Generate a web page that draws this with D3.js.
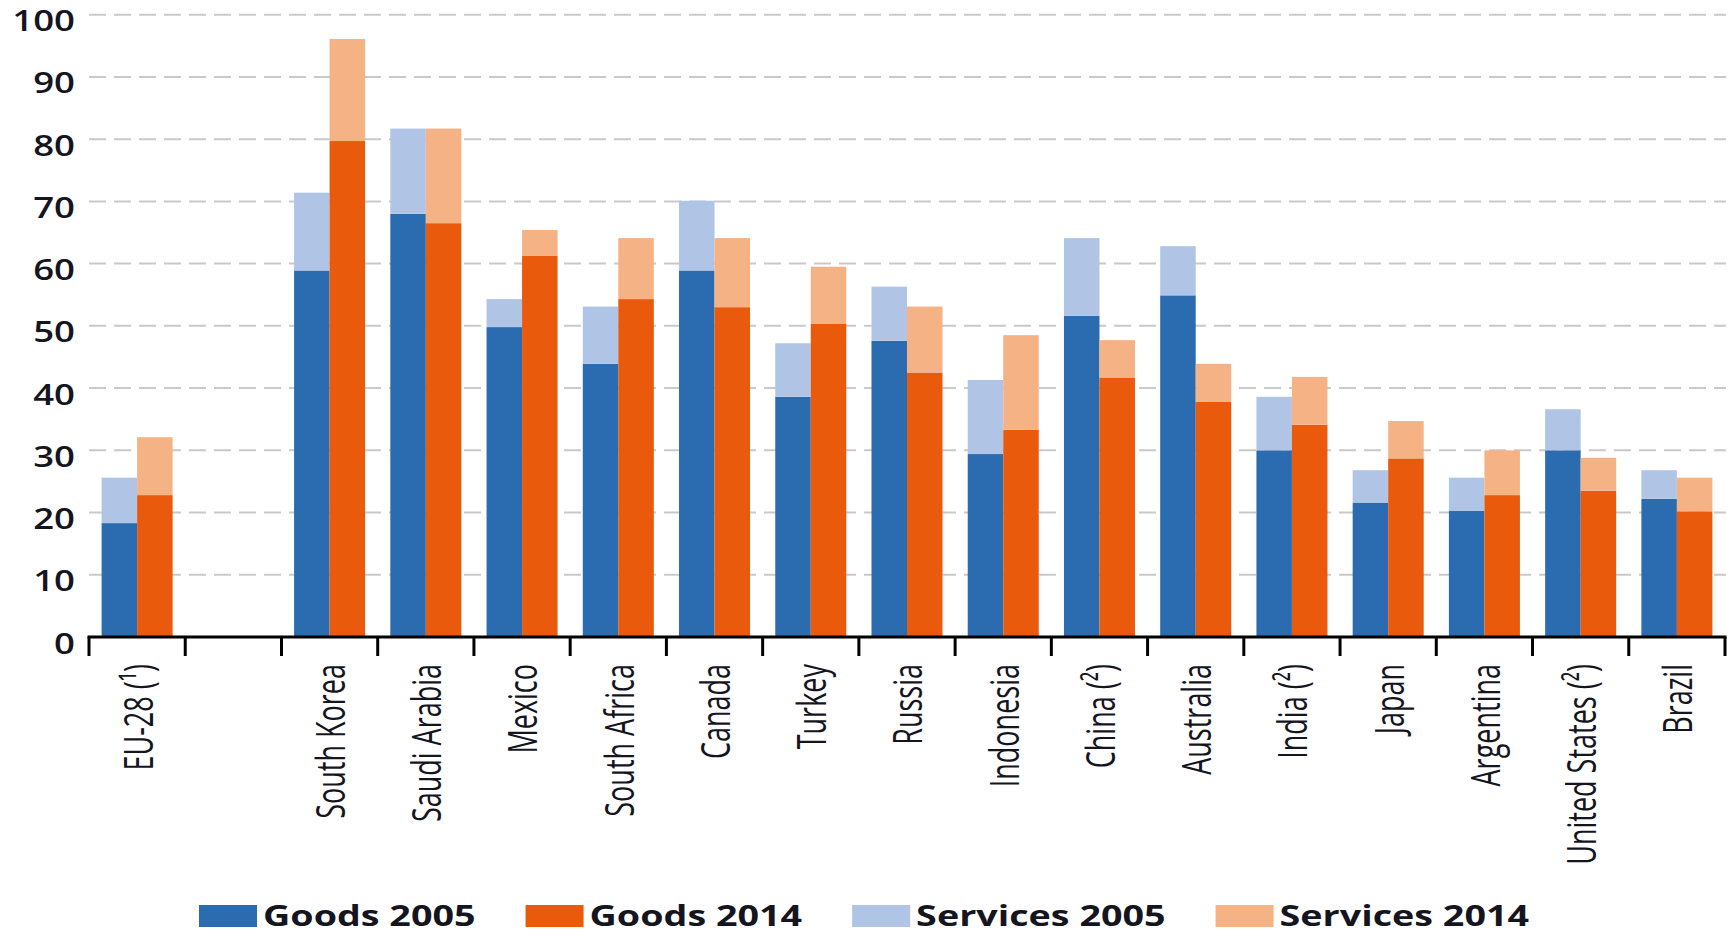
<!DOCTYPE html>
<html>
<head>
<meta charset="utf-8">
<script src="https://cdn.jsdelivr.net/npm/d3@7"></script>
<style>
  body { margin: 0; background: #fff; }
  svg { display: block; font-family: "Open Sans", "Noto Sans", sans-serif; }
</style>
</head>
<body>
<div id="chart"></div>
<script>
// Categories along the x axis. The empty one is the gap after EU-28.
var categories = ["EU-28 (¹)", "", "South Korea", "Saudi Arabia", "Mexico", "South Africa",
    "Canada", "Turkey", "Russia", "Indonesia", "China (²)", "Australia", "India (²)",
    "Japan", "Argentina", "United States (²)", "Brazil"];

// Goods share, bottom segment of each bar.
var goods2005 = [18.3, null, 58.9, 68.0, 49.8, 43.9, 58.9, 38.6, 47.6, 29.4, 51.6, 54.9, 30.0, 21.6, 20.3, 30.0, 22.2];
var goods2014 = [22.8, null, 79.7, 66.5, 61.3, 54.3, 53.0, 50.3, 42.5, 33.3, 41.7, 37.8, 34.1, 28.7, 22.8, 23.5, 20.2];

// Services share, stacked on top of goods.
var services2005 = [7.3, null, 12.5, 13.7, 4.5, 9.2, 11.2, 8.6, 8.7, 11.9, 12.5, 7.9, 8.6, 5.2, 5.3, 6.6, 4.6];
var services2014 = [9.3, null, 16.4, 15.2, 4.1, 9.8, 11.1, 9.2, 10.6, 15.2, 6.0, 6.1, 7.7, 6.0, 7.2, 5.3, 5.4];

var yTicks = [0, 10, 20, 30, 40, 50, 60, 70, 80, 90, 100];
var legendLabels = ["Goods 2005", "Goods 2014", "Services 2005", "Services 2014"];

var colors = {
    goods2005: "#2b6bb0",
    goods2014: "#e95a0c",
    services2005: "#b0c4e6",
    services2014: "#f5b284"
};
var textColor = "#15151f";

var W = 1731, H = 935;
var plot = {left: 89, right: 1725, top: 14.7, bottom: 637};

var svg = d3.select("#chart").append("svg")
    .attr("width", W)
    .attr("height", H);

var x0 = d3.scaleBand()
    .domain(d3.range(categories.length))
    .range([plot.left, plot.right])
    .paddingInner(0)
    .paddingOuter(0);

var x1 = d3.scaleBand()
    .domain(["2005", "2014"])
    .range([0, x0.bandwidth()])
    .paddingInner(0)
    .paddingOuter(0.355);

var y = d3.scaleLinear()
    .domain([0, 100])
    .range([plot.bottom, plot.top]);

// Dashed gridlines behind the bars.
svg.append("g").attr("class", "grid")
  .selectAll("line").data(yTicks.filter(function(d) { return d > 0; }))
  .enter().append("line")
    .attr("x1", plot.left)
    .attr("x2", 1726)
    .attr("y1", function(d) { return y(d); })
    .attr("y2", function(d) { return y(d); })
    .attr("stroke", "#c9c9c9")
    .attr("stroke-width", 2)
    .attr("stroke-dasharray", "17,8");

// One row per category with both years stacked.
var rows = categories.map(function(c, i) {
    return {
        i: i,
        bars: [
            {year: "2005", goods: goods2005[i], services: services2005[i], gc: colors.goods2005, sc: colors.services2005},
            {year: "2014", goods: goods2014[i], services: services2014[i], gc: colors.goods2014, sc: colors.services2014}
        ]
    };
}).filter(function(r) { return r.bars[0].goods !== null; });

var groups = svg.append("g").attr("class", "bars")
  .selectAll("g").data(rows)
  .enter().append("g")
    .attr("transform", function(d) { return "translate(" + x0(d.i) + ",0)"; });

var bar = groups.selectAll("g").data(function(d) { return d.bars; })
  .enter().append("g");

bar.append("rect")
    .attr("x", function(d) { return x1(d.year); })
    .attr("width", x1.bandwidth())
    .attr("y", function(d) { return y(d.goods); })
    .attr("height", function(d) { return y(0) - y(d.goods); })
    .attr("fill", function(d) { return d.gc; });

bar.append("rect")
    .attr("x", function(d) { return x1(d.year); })
    .attr("width", x1.bandwidth())
    .attr("y", function(d) { return y(d.goods + d.services); })
    .attr("height", function(d) { return y(d.goods) - y(d.goods + d.services); })
    .attr("fill", function(d) { return d.sc; });

// Y axis labels, drawn wide like the source.
svg.append("g").attr("class", "y-labels")
  .selectAll("text").data(yTicks)
  .enter().append("text")
    .attr("transform", function(d) { return "translate(75," + (y(d) + 16.5) + ") scale(1.24,1)"; })
    .attr("text-anchor", "end")
    .attr("font-size", 29.5)
    .attr("font-weight", 600)
    .attr("fill", textColor)
    .text(function(d) { return d; });

// X axis: baseline plus ticks on the band edges.
var axis = svg.append("g").attr("class", "x-axis");
var edges = d3.range(categories.length).map(function(i) { return x0(i); }).concat([plot.right]);

axis.append("line")
    .attr("x1", plot.left - 1.5)
    .attr("x2", plot.right + 1.5)
    .attr("y1", y(0))
    .attr("y2", y(0))
    .attr("stroke", "#000")
    .attr("stroke-width", 3);

axis.selectAll("line.tick").data(edges)
  .enter().append("line")
    .attr("class", "tick")
    .attr("x1", function(d) { return d; })
    .attr("x2", function(d) { return d; })
    .attr("y1", y(0))
    .attr("y2", y(0) + 19)
    .attr("stroke", "#000")
    .attr("stroke-width", 3);

axis.selectAll("text").data(categories)
  .enter().append("text")
    .attr("transform", function(d, i) {
        return "translate(" + (x0(i) + x0.bandwidth() / 2) + ",664) rotate(-90) scale(1,1.5)";
    })
    .attr("text-anchor", "end")
    .attr("dy", "0.38em")
    .attr("font-size", 27)
    .attr("fill", textColor)
    .text(function(d) { return d; });

// Legend along the bottom edge.
var legendColors = [colors.goods2005, colors.goods2014, colors.services2005, colors.services2014];
var legend = svg.append("g").attr("class", "legend");
var lx = 199;
legendLabels.forEach(function(label, i) {
    var item = legend.append("g").attr("transform", "translate(" + lx + ",905)");
    item.append("rect")
        .attr("width", 58)
        .attr("height", 22)
        .attr("fill", legendColors[i]);
    var t = item.append("text")
        .attr("transform", "translate(64,21) scale(1.30,1)")
        .attr("font-size", 29)
        .attr("font-weight", 700)
        .attr("fill", textColor)
        .text(label);
    lx += 64 + t.node().getComputedTextLength() * 1.30 + 50;
});
</script>
</body>
</html>
